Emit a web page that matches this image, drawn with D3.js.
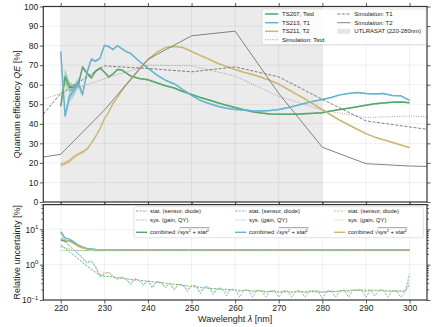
<!DOCTYPE html>
<html><head><meta charset="utf-8">
<script src="https://cdn.jsdelivr.net/npm/d3@7"></script>
<style>
body{margin:0;background:#fff}
text{font-family:"Liberation Sans",Arial,Helvetica,sans-serif;fill:#222}
</style>
</head><body>
<svg id="c" width="436" height="327"></svg>
<script>
// ---------------- DATA ----------------
const xTicks = [220,230,240,250,260,270,280,290,300];
const qeTicks = [0,10,20,30,40,50,60,70,80,90,100];
const uTicks = [0.1,1,10];
const spanRange = [220,280];

// measured QE wavelengths
const wl = [220,221,222,223,224,225,226,227,228,229,230,231,232,233,234,235,236,238,240,242,244,246,248,250,252,254,256,258,260,262,264,266,268,270,272,274,276,278,280,282,284,286,288,290,292,294,296,298,300];
const qeTS207 = [49,64,59,58.5,60,69,66,63.5,67,68.5,66.5,64,65.5,67.8,67.5,66,64.5,63.2,62.5,61,59.5,58.3,56.5,55,53.5,52.2,50.8,49.5,48.3,47.2,46.2,45.5,45,44.9,44.9,44.9,45.2,45.4,45.7,46.5,47.3,48,48.7,49.5,50.2,50.7,51,51.2,50.8];
const errTS207 = [1,4,2.5,1.5,1,1,0.8,0.6,0.5,0.5,0.4,0.4,0.4,0.4,0.4,0.4,0.4,0.4,0.4,0.4,0.4,0.4,0.4,0.4,0.4,0.4,0.4,0.4,0.4,0.4,0.4,0.4,0.4,0.4,0.4,0.4,0.4,0.4,0.4,0.4,0.4,0.4,0.4,0.4,0.4,0.4,0.4,0.4,0.4];
const qeTS213 = [77,44,54,57,61,55,66,73,72,73.5,80,79.5,78,80,78.5,77,76,72,68.5,65,62.3,60.5,57.5,54.6,52,50.4,49,48,47.3,47,46.7,46.6,46.8,47.3,48.2,49.3,50.5,51.5,52.4,53.5,54.8,55.5,56,55.5,55.2,55.5,54.5,54.3,52];
const errTS213 = [2,1.5,3,3,2.5,1.5,1,0.8,0.6,0.5,0.5,0.5,0.4,0.4,0.4,0.4,0.4,0.4,0.4,0.4,0.4,0.4,0.4,0.4,0.4,0.4,0.4,0.4,0.4,0.4,0.4,0.4,0.4,0.4,0.4,0.4,0.4,0.4,0.4,0.4,0.4,0.4,0.4,0.4,0.4,0.4,0.4,0.4,0.4];
const qeTS211 = [19,19.8,21,23,24.5,25.5,27,30,33.5,37.5,42.5,46,50.5,53.5,57,60,62.5,68,72.8,76.5,79,79.5,79,77,75,73,71,69.3,67.8,66.4,65.2,63.8,62.2,60.3,57.8,55.2,52.8,50,47.2,44.5,41.8,39.5,37.2,35,33.2,31.8,30.6,29.2,27.8];
const errTS211 = [1,1,1,1,0.8,0.8,0.6,0.5,0.5,0.4,0.4,0.4,0.4,0.4,0.4,0.4,0.4,0.4,0.4,0.4,0.4,0.4,0.4,0.4,0.4,0.4,0.4,0.4,0.4,0.4,0.4,0.4,0.4,0.4,0.4,0.4,0.4,0.4,0.4,0.4,0.4,0.4,0.4,0.4,0.4,0.4,0.4,0.4,0.4];

// simulations
const simWl = [216,220,230,240,250,260,270,280,290,300,304];
const simTstd = [52.6,55.5,63,70,69.7,64.4,54,47,43.2,44,43.5];
const simT1 = [45,55.5,69.6,68.3,66.6,69.1,64,52.5,41.5,38.4,37.2];
const simT2 = [23,24.4,47,73,85,87.4,55.5,28,19.6,18.4,18.2];

// uncertainties (bottom panel), 1 nm steps 220..300
const uWl = d3.range(220,301,1);
const statTS207 = [3.6,2.9,2.3,1.85,1.45,1.15,0.92,0.74,0.6,0.5,
 0.47,0.46,0.45,0.43,0.41,0.4,0.38,0.37,0.36,0.35,
 0.34,0.33,0.32,0.31,0.3,0.29,0.28,0.27,0.26,0.25,
 0.24,0.235,0.23,0.22,0.215,0.21,0.205,0.2,0.2,0.195,
 0.19,0.19,0.185,0.185,0.18,0.18,0.18,0.175,0.175,0.175,
 0.17,0.17,0.17,0.17,0.17,0.17,0.17,0.17,0.17,0.17,
 0.17,0.17,0.175,0.175,0.18,0.18,0.185,0.19,0.19,0.19,
 0.19,0.19,0.19,0.185,0.185,0.18,0.18,0.18,0.18,0.18,
 0.28];
const statTS213 = [8,4.5,3.4,2.6,2.0,1.5,1.1,1.25,0.85,0.45,
 0.55,0.62,0.45,0.38,0.45,0.38,0.27,0.4,0.36,0.26,
 0.35,0.22,0.33,0.32,0.22,0.3,0.19,0.28,0.27,0.17,
 0.26,0.25,0.15,0.24,0.23,0.14,0.22,0.21,0.13,0.2,
 0.2,0.12,0.19,0.19,0.12,0.19,0.18,0.12,0.18,0.18,
 0.12,0.18,0.18,0.12,0.18,0.18,0.12,0.18,0.18,0.18,
 0.11,0.18,0.18,0.12,0.18,0.19,0.12,0.19,0.19,0.19,
 0.12,0.19,0.13,0.19,0.19,0.12,0.18,0.18,0.12,0.17,
 0.55];
const statTS211 = [5,4.3,3.5,2.7,2.1,1.6,1.2,1.3,0.9,0.5,
 0.6,0.58,0.48,0.4,0.45,0.38,0.3,0.4,0.35,0.28,
 0.34,0.25,0.32,0.3,0.24,0.3,0.21,0.27,0.26,0.2,
 0.25,0.24,0.18,0.23,0.22,0.17,0.21,0.2,0.17,0.2,
 0.19,0.17,0.19,0.19,0.16,0.19,0.18,0.16,0.18,0.18,
 0.16,0.18,0.18,0.16,0.18,0.18,0.16,0.18,0.18,0.18,
 0.16,0.18,0.18,0.17,0.18,0.19,0.17,0.19,0.19,0.19,
 0.17,0.19,0.18,0.19,0.19,0.17,0.18,0.18,0.17,0.18,
 0.36];
const sysWl = [220,221,222,223,224,300];
const sysTS207 = [2.5,2.5,2.5,2.5,2.5,2.5];
const sysTS213 = [3.3,3.0,2.8,2.6,2.5,2.5];
const sysTS211 = [3.1,2.9,2.7,2.6,2.5,2.5];
const combWl = [220,221,222,223,224,225,226,227,228,229,230,300];
const combTS207 = [5,4.6,4.8,4.2,3.5,3.1,2.85,2.75,2.68,2.63,2.62,2.62];
const combTS213 = [8.6,5.6,5.3,4.4,3.6,3.1,2.85,2.8,2.7,2.65,2.62,2.62];
const combTS211 = [5.5,5,4.6,3.9,3.3,2.95,2.75,2.7,2.66,2.63,2.62,2.62];

const legendTop = ["TS207, Tstd","TS213, T1","TS211, T2","Simulation: Tstd","Simulation: T1","Simulation: T2","UTLRASAT (220-280nm)"];

// ---------------- DRAW ----------------
const GREEN="#55A868", CYAN="#64B5CD", YELLOW="#CCB974";
const svg = d3.select("#c");
const X0=43.3, X1=427, T0=6.5, T1=202, B0=204.6, B1=300;
const x = d3.scaleLinear().domain([216,304]).range([X0,X1]);
const yT = d3.scaleLinear().domain([0,100]).range([T1,T0]);
const yB = d3.scaleLog().domain([0.1,50]).range([B1,B0]);

const defs = svg.append("defs");
defs.append("clipPath").attr("id","ct").append("rect").attr("x",X0).attr("y",T0).attr("width",X1-X0).attr("height",T1-T0);
defs.append("clipPath").attr("id","cb").append("rect").attr("x",X0).attr("y",B0).attr("width",X1-X0).attr("height",B1-B0);

// ---- top panel
const gT = svg.append("g").attr("clip-path","url(#ct)");
gT.append("rect").attr("x",x(spanRange[0])).attr("y",T0).attr("width",x(spanRange[1])-x(spanRange[0])).attr("height",T1-T0).attr("fill","#ebebeb");
gT.selectAll(".gx").data(xTicks).join("line").attr("x1",d=>x(d)).attr("x2",d=>x(d)).attr("y1",T0).attr("y2",T1).attr("stroke","#000").attr("stroke-opacity",0.08).attr("stroke-width",0.8);
gT.selectAll(".gy").data(qeTicks).join("line").attr("x1",X0).attr("x2",X1).attr("y1",d=>yT(d)).attr("y2",d=>yT(d)).attr("stroke","#000").attr("stroke-opacity",0.08).attr("stroke-width",0.8);

function series(vals, errs){ return wl.map((w,i)=>({w, v:vals[i], e:errs[i]})); }
const area = d3.area().x(d=>x(d.w)).y0(d=>yT(d.v-d.e)).y1(d=>yT(d.v+d.e));
const lineT = d3.line().x(d=>x(d.w)).y(d=>yT(d.v));
[[qeTS207,errTS207,GREEN],[qeTS213,errTS213,CYAN],[qeTS211,errTS211,YELLOW]].forEach(([v,e,c])=>{
  const s = series(v,e);
  gT.append("path").datum(s).attr("d",area).attr("fill",c).attr("fill-opacity",0.45);
  gT.append("path").datum(s).attr("d",lineT).attr("fill","none").attr("stroke",c).attr("stroke-width",1.5).attr("stroke-linejoin","round");
});
const simLine = d3.line().x(d=>x(d[0])).y(d=>yT(d[1]));
const simStyles = [[simTstd,"#999","1,1.4",0.9],[simT1,"#707070","3,1.6",0.9],[simT2,"#808080",null,1.0]];
simStyles.forEach(([v,c,da,w])=>{
  gT.append("path").datum(simWl.map((s,i)=>[s,v[i]])).attr("d",simLine).attr("fill","none").attr("stroke",c).attr("stroke-width",w).attr("stroke-dasharray",da);
});

// ---- bottom panel
const gB = svg.append("g").attr("clip-path","url(#cb)");
gB.selectAll(".gx").data(xTicks).join("line").attr("x1",d=>x(d)).attr("x2",d=>x(d)).attr("y1",B0).attr("y2",B1).attr("stroke","#000").attr("stroke-opacity",0.08).attr("stroke-width",0.8);
gB.selectAll(".gy").data([1,10]).join("line").attr("x1",X0).attr("x2",X1).attr("y1",d=>yB(d)).attr("y2",d=>yB(d)).attr("stroke","#000").attr("stroke-opacity",0.08).attr("stroke-width",0.8);
const lineB = d3.line().x(d=>x(d[0])).y(d=>yB(d[1]));
const sets = [[statTS207,sysTS207,combTS207,GREEN],[statTS213,sysTS213,combTS213,CYAN],[statTS211,sysTS211,combTS211,YELLOW]];
sets.forEach(([st,sy,cb,c])=>{
  gB.append("path").datum(uWl.map((w,i)=>[w,st[i]])).attr("d",lineB).attr("fill","none").attr("stroke",c).attr("stroke-width",0.9).attr("stroke-dasharray","2.2,1.3");
  gB.append("path").datum(sysWl.map((w,i)=>[w,sy[i]])).attr("d",lineB).attr("fill","none").attr("stroke",c).attr("stroke-width",0.8).attr("stroke-dasharray","0.8,1");
});
sets.forEach(([st,sy,cb,c])=>{
  gB.append("path").datum(combWl.map((w,i)=>[w,cb[i]])).attr("d",lineB).attr("fill","none").attr("stroke",c).attr("stroke-width",1.4);
});

// ---- axes
function styleAxis(g){
  g.select(".domain").remove();
  g.selectAll(".tick line").attr("stroke","#333").attr("stroke-width",0.8);
  g.selectAll(".tick text").attr("font-size",8.5).attr("fill","#222").attr("font-family",'"Liberation Sans",Arial,sans-serif');
}
svg.append("g").attr("transform",`translate(${X0},0)`).call(d3.axisLeft(yT).tickValues(qeTicks).tickSize(3.5).tickPadding(1.5)).call(styleAxis);
svg.append("g").attr("transform",`translate(${X1},0)`).call(d3.axisRight(yT).tickValues(qeTicks).tickSize(3.5).tickFormat("")).call(styleAxis);
svg.append("g").attr("transform",`translate(0,${T0})`).call(d3.axisTop(x).tickValues(xTicks).tickSize(3.5).tickFormat("")).call(styleAxis);
svg.append("g").attr("transform",`translate(0,${T1})`).call(d3.axisBottom(x).tickValues(xTicks).tickSize(2.5).tickFormat("")).call(styleAxis);
svg.append("g").attr("transform",`translate(0,${B0})`).call(d3.axisTop(x).tickValues(xTicks).tickSize(2.5).tickFormat("")).call(styleAxis);
svg.append("g").attr("transform",`translate(0,${B1})`).call(d3.axisBottom(x).tickValues(xTicks).tickSize(3.5).tickPadding(1.5)).call(styleAxis);

const minorU = [];
[0.1,1,10].forEach(b=>{for(let k=2;k<=9;k++){const v=b*k; if(v<=50) minorU.push(v);}});
const gl = svg.append("g").attr("transform",`translate(${X0},0)`).call(d3.axisLeft(yB).tickValues(uTicks).tickSize(3.5).tickPadding(1.5)).call(styleAxis);
gl.selectAll(".tick text").text(null).each(function(d){
  const t = d3.select(this);
  t.append("tspan").text("10");
  t.append("tspan").attr("dy",-3.6).attr("font-size",6).text(d<1?"\u22121":(d<10?"0":"1"));
});
svg.append("g").attr("transform",`translate(${X0},0)`).call(d3.axisLeft(yB).tickValues(minorU).tickSize(2).tickFormat("")).call(styleAxis);
svg.append("g").attr("transform",`translate(${X1},0)`).call(d3.axisRight(yB).tickValues(uTicks).tickSize(3.5).tickFormat("")).call(styleAxis);
svg.append("g").attr("transform",`translate(${X1},0)`).call(d3.axisRight(yB).tickValues(minorU).tickSize(2).tickFormat("")).call(styleAxis);

// spines
[[X0,T0,X1-X0,T1-T0],[X0,B0,X1-X0,B1-B0]].forEach(([a,b,w,h])=>{
  svg.append("rect").attr("x",a).attr("y",b).attr("width",w).attr("height",h).attr("fill","none").attr("stroke","#333").attr("stroke-width",1.2);
});

// axis labels
const yl = svg.append("text").attr("transform",`translate(19.5,${(T0+T1)/2}) rotate(-90)`).attr("text-anchor","middle").attr("font-size",9);
yl.append("tspan").text("Quantum efficiency ");
yl.append("tspan").attr("font-style","italic").text("QE");
yl.append("tspan").text(" [%]");
svg.append("text").attr("transform",`translate(19.5,${(B0+B1)/2}) rotate(-90)`).attr("text-anchor","middle").attr("font-size",9).text("Relative uncertainty [%]");
const xl = svg.append("text").attr("x",(X0+X1)/2).attr("y",322).attr("text-anchor","middle").attr("font-size",9);
xl.append("tspan").text("Wavelenght ");
xl.append("tspan").attr("font-style","italic").text("λ");
xl.append("tspan").text(" [nm]");

// ---- top legend
const lg = svg.append("g");
lg.append("rect").attr("x",262).attr("y",9).attr("width",164).attr("height",35.5).attr("rx",1.5).attr("fill","#fff").attr("fill-opacity",0.85).attr("stroke","#d0d0d0").attr("stroke-width",0.6);
const legStyles = [
  {c:GREEN,w:1.5,da:null},{c:CYAN,w:1.5,da:null},{c:YELLOW,w:1.5,da:null},
  {c:"#999",w:0.9,da:"1,1.4"},{c:"#707070",w:0.9,da:"3,1.6"},{c:"#808080",w:1.0,da:null},{patch:true}
];
const legPos = [[265,14],[265,22.7],[265,31.3],[265,39.7],[337.3,14],[337.3,22.7],[337.3,31.3]];
legendTop.forEach((lab,i)=>{
  const [lx,ly] = legPos[i], s = legStyles[i];
  if(s.patch) lg.append("rect").attr("x",lx).attr("y",ly-2.6).attr("width",12.7).attr("height",5.2).attr("fill","#e6e6e6");
  else lg.append("line").attr("x1",lx).attr("x2",lx+13.3).attr("y1",ly).attr("y2",ly).attr("stroke",s.c).attr("stroke-width",s.w).attr("stroke-dasharray",s.da);
  lg.append("text").attr("x",lx+17).attr("y",ly).attr("dy","0.35em").attr("font-size",6).text(lab);
});

// ---- bottom legend
const bl = svg.append("g");
bl.append("rect").attr("x",134).attr("y",206.7).attr("width",289.3).attr("height",31).attr("rx",1.5).attr("fill","#fff").attr("fill-opacity",0.85).attr("stroke","#d0d0d0").attr("stroke-width",0.6);
const colX = [136,235,334];
const rowY = [211,220,232.3];
[GREEN,CYAN,YELLOW].forEach((c,ci)=>{
  const lx = colX[ci];
  bl.append("line").attr("x1",lx).attr("x2",lx+11.3).attr("y1",rowY[0]).attr("y2",rowY[0]).attr("stroke",c).attr("stroke-width",0.9).attr("stroke-dasharray","2.2,1.3");
  bl.append("text").attr("x",lx+14).attr("y",rowY[0]).attr("dy","0.35em").attr("font-size",5.8).text("stat. (sensor, diode)");
  bl.append("line").attr("x1",lx).attr("x2",lx+11.3).attr("y1",rowY[1]).attr("y2",rowY[1]).attr("stroke",c).attr("stroke-width",0.8).attr("stroke-dasharray","0.8,1");
  bl.append("text").attr("x",lx+14).attr("y",rowY[1]).attr("dy","0.35em").attr("font-size",5.8).text("sys. (gain, QY)");
  bl.append("line").attr("x1",lx).attr("x2",lx+11.3).attr("y1",rowY[2]).attr("y2",rowY[2]).attr("stroke",c).attr("stroke-width",1.4);
  const t1 = bl.append("text").attr("x",lx+14).attr("y",rowY[2]).attr("dy","0.35em").attr("font-size",5.8).text("combined \u221A");
  const w1 = t1.node().getComputedTextLength();
  const t2 = bl.append("text").attr("x",lx+14+w1).attr("y",rowY[2]).attr("dy","0.35em").attr("font-size",5.8);
  t2.append("tspan").attr("font-style","italic").text("sys");
  t2.append("tspan").attr("dy",-2.4).attr("font-size",4).text("2");
  t2.append("tspan").attr("dy",2.4).text(" + ");
  t2.append("tspan").attr("font-style","italic").text("stat");
  t2.append("tspan").attr("dy",-2.4).attr("font-size",4).text("2");
  const w2 = t2.node().getComputedTextLength();
  bl.append("line").attr("x1",lx+14+w1-0.3).attr("x2",lx+14+w1+w2+0.5).attr("y1",rowY[2]-4.6).attr("y2",rowY[2]-4.6).attr("stroke","#222").attr("stroke-width",0.45);
});
</script>
</body></html>
